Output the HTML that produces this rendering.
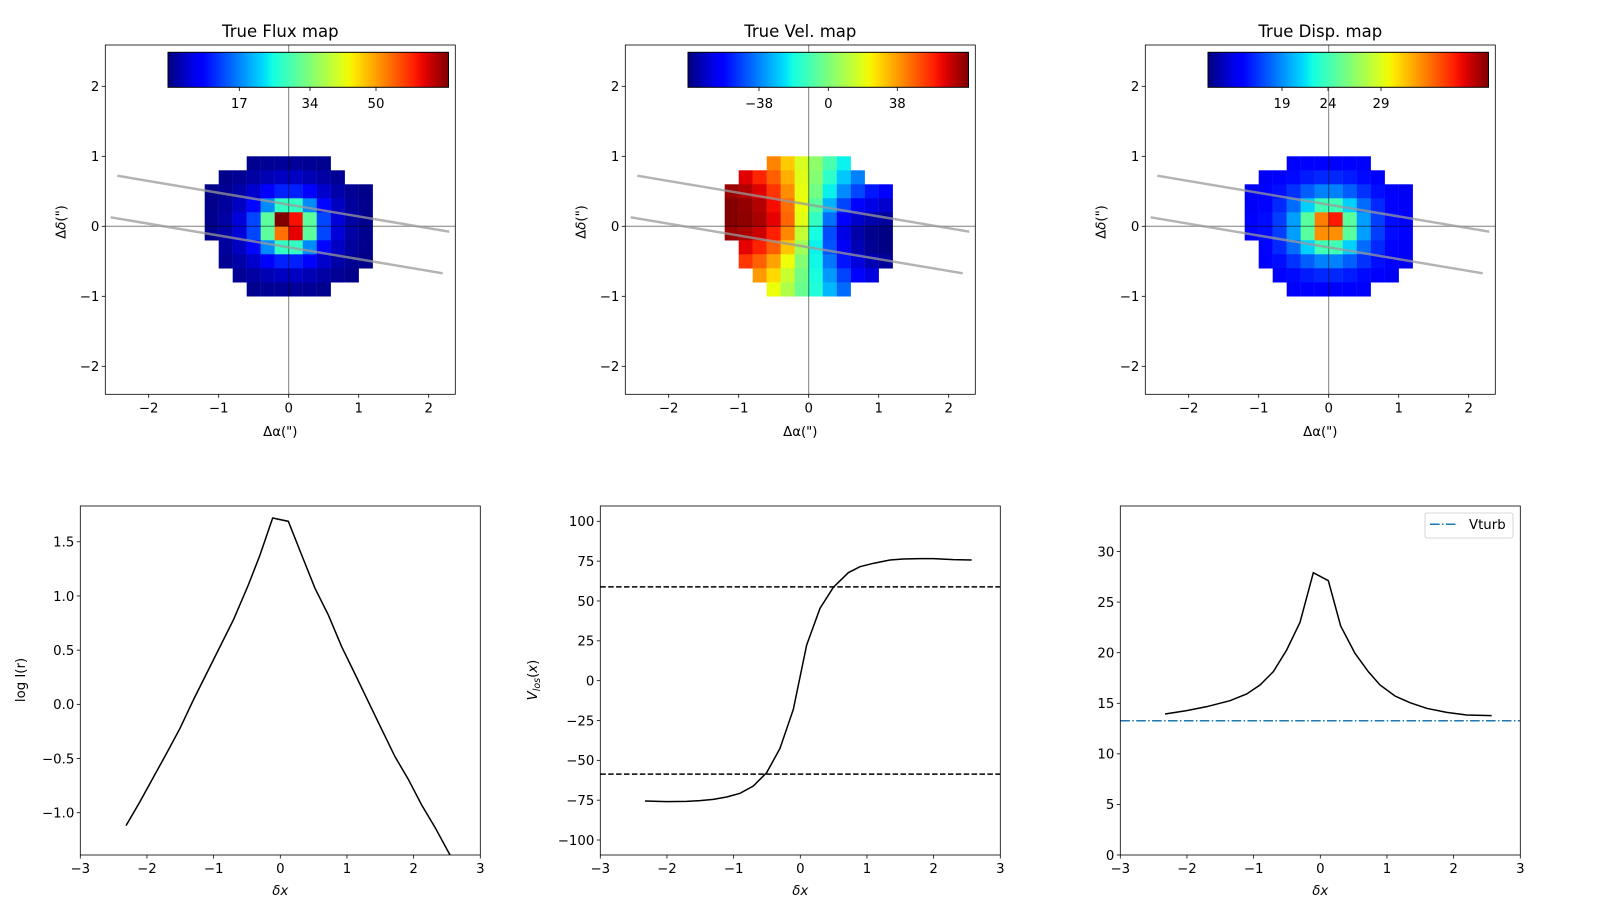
<!DOCTYPE html>
<html><head><meta charset="utf-8">
<style>
html,body{margin:0;padding:0;background:#fff;width:1600px;height:900px;overflow:hidden}
svg{display:block}
text{font-family:"DejaVu Sans","Liberation Sans",sans-serif;fill:#000}
</style></head>
<body>
<svg id="s" xmlns="http://www.w3.org/2000/svg" width="1600" height="900" viewBox="0 0 1600 900"></svg>
<script>
var S=[];
function jetc(v){
  v=Math.max(0,Math.min(1,v));
  function interp(pts){for(var i=0;i<pts.length-1;i++){var a=pts[i],b=pts[i+1];if(v>=a[0]&&v<=b[0]){return a[1]+(b[1]-a[1])*(v-a[0])/(b[0]-a[0]);}}return pts[pts.length-1][1];}
  var r=interp([[0,0],[0.35,0],[0.66,1],[0.89,1],[1,0.5]]);
  var g=interp([[0,0],[0.125,0],[0.375,1],[0.64,1],[0.91,0],[1,0]]);
  var b=interp([[0,0.5],[0.11,1],[0.34,1],[0.65,0],[1,0]]);
  return 'rgb('+Math.round(r*255)+','+Math.round(g*255)+','+Math.round(b*255)+')';
}
var grad='';
for(var i=0;i<=40;i++){grad+='<stop offset="'+(i/40)+'" stop-color="'+jetc(i/40)+'"/>';}
S.push('<defs><linearGradient id="jet" x1="0" x2="1" y1="0" y2="0">'+grad+'</linearGradient></defs>');
function T(x,y,s,anchor,extra){return '<text x="'+x+'" y="'+y+'" font-size="13.3" text-anchor="'+(anchor||'middle')+'" '+(extra||'')+'>'+s+'</text>';}
function fmt(v,d){var s=v.toFixed(d);if(v<0)s='\u2212'+s.substring(1);return s;}
var mask=[[-0.6,0.6],[-1.0,0.8],[-1.2,1.2],[-1.2,1.2],[-1.2,1.2],[-1.2,1.2],[-1.0,1.2],[-1.0,1.2],[-0.8,1.0],[-0.6,0.6]];
function Vc(R){return 78*Math.tanh(R/0.45);}
var titles=['True Flux map','True Vel. map','True Disp. map'];
var cbt=[[[17,239.3],[34,310],[50,376]],[[-38,759],[0,828.3],[38,897.3]],[[19,1282],[24,1328],[29,1381]]];
for(var p=0;p<3;p++){
  var off=p*520, X0=105.3+off, Y0=45, W=350, H=349.3;
  var px=function(x){return X0+(x+2.62)*70;}, py=function(y){return Y0+(2.59-y)*70;};
  S.push('<text x="'+(X0+W/2)+'" y="37" font-size="16.5" text-anchor="middle">'+titles[p]+'</text>');
  S.push('<clipPath id="c'+p+'"><rect x="'+X0+'" y="'+Y0+'" width="'+W+'" height="'+H+'"/></clipPath>');
  S.push('<g clip-path="url(#c'+p+')">');
  for(var r=0;r<10;r++){
    var yt=1.0-r*0.2, yc=yt-0.1;
    for(var x=mask[r][0];x<mask[r][1]-1e-6;x+=0.2){
      var xc=x+0.1, val, col;
      var R=Math.sqrt(xc*xc+Math.pow(yc*1.1,2));
      if(p==0){
        val=70*Math.exp(-(R-0.14)/0.22);
        if(Math.abs(R-0.1414)<0.01){ if(xc<0&&yc>0)val=67; else if(xc>0&&yc>0)val=60; else if(xc<0)val=53; else val=61;}
        col=jetc(val/67);
      }else if(p==1){
        var xm=(xc-0.17*yc)/1.014, ym=(yc+0.17*xc)/1.014;
        var Rd=Math.sqrt(xm*xm+Math.pow(ym/0.8,2));
        val=-Vc(Rd)*xm/Math.max(Rd,1e-6);
        col=jetc((val+77)/154);
      }else{
        val=13.3+31*Math.exp(-R/0.3);
        if(Math.abs(R-0.1414)<0.01){ if(xc>0&&yc>0)val=36; else if(xc<0&&yc>0)val=33; else val=32.5;}
        col=jetc((val-11)/28.3);
      }
      S.push('<rect x="'+px(x).toFixed(2)+'" y="'+py(yt).toFixed(2)+'" width="14.2" height="14.2" fill="'+col+'"/>');
    }
  }
  S.push('<line x1="'+px(0)+'" y1="'+Y0+'" x2="'+px(0)+'" y2="'+(Y0+H)+'" stroke="#000" stroke-opacity="0.5" stroke-width="1"/>');
  S.push('<line x1="'+X0+'" y1="'+py(0)+'" x2="'+(X0+W)+'" y2="'+py(0)+'" stroke="#000" stroke-opacity="0.5" stroke-width="1"/>');
  S.push('<line x1="'+(117.3+off)+'" y1="175.7" x2="'+(449.3+off)+'" y2="231.7" stroke="#999" stroke-opacity="0.75" stroke-width="2.5"/>');
  S.push('<line x1="'+(110.7+off)+'" y1="217.3" x2="'+(442.7+off)+'" y2="273.3" stroke="#999" stroke-opacity="0.75" stroke-width="2.5"/>');
  S.push('</g>');
  S.push('<rect x="'+(168+off)+'" y="52.3" width="280.5" height="35" fill="url(#jet)" stroke="#000" stroke-width="1"/>');
  for(var k=0;k<3;k++){var tx=cbt[p][k][1];S.push('<line x1="'+tx+'" y1="87.3" x2="'+tx+'" y2="91" stroke="#000" stroke-width="0.8"/>');S.push(T(tx,108,fmt(cbt[p][k][0],0)));}
  S.push('<rect x="'+X0+'" y="'+Y0+'" width="'+W+'" height="'+H+'" fill="none" stroke="#000" stroke-width="0.8"/>');
  for(var t=-2;t<=2;t++){
    var xx=px(t);S.push('<line x1="'+xx+'" y1="'+(Y0+H)+'" x2="'+xx+'" y2="'+(Y0+H+3.5)+'" stroke="#000" stroke-width="0.8"/>');S.push(T(xx,Y0+H+18,fmt(t,0)));
    var yy=py(t);S.push('<line x1="'+X0+'" y1="'+yy+'" x2="'+(X0-3.5)+'" y2="'+yy+'" stroke="#000" stroke-width="0.8"/>');S.push(T(X0-6,yy+4.8,fmt(t,0),'end'));
  }
  S.push(T(X0+W/2,436,'\u0394\u03b1(")'));
  S.push('<text x="0" y="0" font-size="13.3" text-anchor="middle" transform="translate('+(X0-40)+',222) rotate(-90)">\u0394<tspan font-style="italic">\u03b4</tspan>(")</text>');
}
var yr=[[-1.39,1.83],[-109.4,109.6],[0,34.5]];
var yt=[[[-1.0,-0.5,0,0.5,1.0,1.5],1],[[-100,-75,-50,-25,0,25,50,75,100],0],[[0,5,10,15,20,25,30],0]];
for(var p=0;p<3;p++){
  var off=p*520, X0=80.3+off, Y0=506, W=400, H=349;
  var lo=yr[p][0], hi=yr[p][1];
  var px=function(x){return X0+(x+3)*W/6;}, py=function(y){return Y0+(hi-y)*H/(hi-lo);};
  S.push('<clipPath id="b'+p+'"><rect x="'+X0+'" y="'+Y0+'" width="'+W+'" height="'+H+'"/></clipPath>');
  for(var t=-3;t<=3;t++){var xx=px(t);S.push('<line x1="'+xx+'" y1="'+(Y0+H)+'" x2="'+xx+'" y2="'+(Y0+H+3.5)+'" stroke="#000" stroke-width="0.8"/>');S.push(T(xx,Y0+H+18,fmt(t,0)));}
  yt[p][0].forEach(function(v){var yy=py(v);S.push('<line x1="'+X0+'" y1="'+yy+'" x2="'+(X0-3.5)+'" y2="'+yy+'" stroke="#000" stroke-width="0.8"/>');S.push(T(X0-6,yy+4.8,fmt(v,yt[p][1]),'end'));});
  S.push('<text x="'+(X0+W/2)+'" y="895" font-size="13.3" text-anchor="middle" font-style="italic">\u03b4x</text>');
}
function poly(pts,ox,oy,extra){var s=pts.map(function(q){return (ox+q[0]/3).toFixed(2)+','+(oy+q[1]/3).toFixed(2);}).join(' ');return '<polyline points="'+s+'" fill="none" stroke="#000" stroke-width="1.5" '+(extra||'')+'/>';}
S.push('<g clip-path="url(#b0)">'+poly([[378,1007],[420,935],[460,862],[497,795],[540,715],[580,630],[640,510],[700,390],[745,285],[780,195],[818,84],[865,94],[905,195],[945,295],[985,375],[1025,470],[1065,552],[1105,635],[1145,718],[1185,800],[1225,868],[1265,945],[1305,1012],[1350,1095],[1365,1120]],0,490)+'</g>');
S.push('<g clip-path="url(#b1)"><line x1="600.3" y1="586.9" x2="1000.3" y2="586.9" stroke="#000" stroke-width="1.5" stroke-dasharray="5.5,2.4"/><line x1="600.3" y1="774.1" x2="1000.3" y2="774.1" stroke="#000" stroke-width="1.5" stroke-dasharray="5.5,2.4"/>'+poly([[375,933],[440,935],[500,934],[540,932],[580,928],[620,921],[660,910],[700,888],[740,848],[780,775],[820,658],[860,465],[900,355],[940,292],[985,248],[1020,230],[1060,220],[1110,210],[1150,207],[1200,206],[1240,206],[1300,209],[1355,210]],520,490)+'</g>');
S.push('<g clip-path="url(#b2)"><line x1="1120.3" y1="720.7" x2="1520.3" y2="720.7" stroke="#1f77b4" stroke-width="1.5" stroke-dasharray="9.6,2.4,1.5,2.4"/>'+poly([[195,672],[260,662],[320,650],[390,632],[440,612],[480,585],[520,545],[560,480],[600,397],[640,248],[685,272],[722,408],[765,490],[805,545],[840,585],[885,618],[930,638],[980,655],[1040,667],[1100,675],[1175,677]],1100,490)+'</g>');
for(var p=0;p<3;p++){S.push('<rect x="'+(80.3+p*520)+'" y="506" width="400" height="349" fill="none" stroke="#000" stroke-width="0.8"/>');}
S.push('<text x="0" y="0" font-size="13.3" text-anchor="middle" transform="translate(25,680) rotate(-90)">log I(r)</text>');
S.push('<text x="0" y="0" font-size="13.3" text-anchor="middle" transform="translate(537,680) rotate(-90)"><tspan font-style="italic">V</tspan><tspan font-style="italic" font-size="9.5" dy="3">los</tspan><tspan dy="-3">(</tspan><tspan font-style="italic">x</tspan>)</text>');
S.push('<rect x="1425" y="513" width="88" height="25" rx="2" fill="#fff" fill-opacity="0.8" stroke="#ccc" stroke-width="0.8"/>');
S.push('<line x1="1430" y1="524.3" x2="1458" y2="524.3" stroke="#1f77b4" stroke-width="1.5" stroke-dasharray="9.6,2.4,1.5,2.4"/>');
S.push(T(1469,529,'Vturb','start'));
document.getElementById('s').innerHTML=S.join('');
</script>
</body></html>
